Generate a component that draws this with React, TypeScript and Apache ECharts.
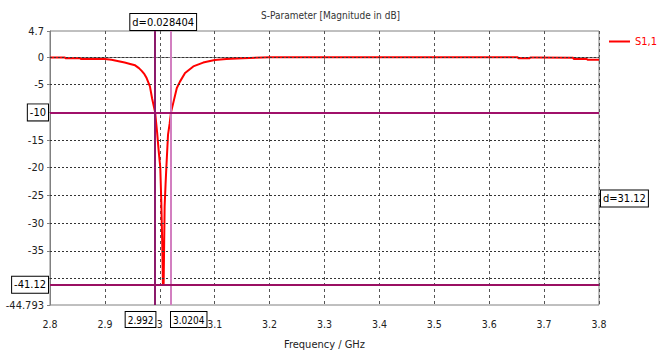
import React, { useEffect, useRef } from "react";
import * as echarts from "echarts";

const FONT = "'DejaVu Sans Condensed', 'DejaVu Sans', sans-serif";

const freq = [
  2.8, 2.827, 2.828, 2.855, 2.856, 2.9, 2.912, 2.925, 2.936, 2.946, 2.955, 2.962, 2.967, 2.972, 2.976,
  2.982, 2.986, 2.9915, 2.995, 2.998, 3.0009, 3.0027, 3.0045, 3.0057, 3.0062, 3.007, 3.0088, 3.0105,
  3.0119, 3.015, 3.018, 3.0204, 3.025, 3.031, 3.037, 3.046, 3.061, 3.079, 3.1, 3.121, 3.151, 3.2,
  3.3, 3.4, 3.5, 3.6, 3.652, 3.653, 3.674, 3.675, 3.684, 3.685, 3.753, 3.754, 3.778, 3.779, 3.8,
];
const s11 = [
  -0.1, -0.1, -0.2, -0.2, -0.35, -0.35, -0.5, -0.75, -1.0, -1.25, -1.5, -2.0, -2.5, -3.1, -3.8,
  -5.3, -7.5, -10, -13.5, -17, -20, -26, -34, -41.12, -41.12, -41, -27, -23, -20, -14, -12, -10,
  -8.1, -5.6, -4.4, -2.9, -1.7, -1.0, -0.55, -0.35, -0.2, -0.05, -0.03, -0.03, -0.03, -0.03,
  -0.03, -0.2, -0.2, -0.1, -0.1, -0.15, -0.15, -0.35, -0.35, -0.5, -0.5,
];

const seriesName = "S1,1";
const yMin = -44.793;
const yMax = 4.7;
const yLabelValues = [4.7, 0, -5, -15, -20, -25, -30, -35, -44.793];
const yTickValues = [4.7, 0, -5, -10, -15, -20, -25, -30, -35, -40, -44.793];
const yGridValues = [0, -5, -10, -15, -20, -25, -30, -35, -40];

const markerX1 = 2.992;
const markerX2 = 3.0204;
const markerY1 = -10;
const markerY2 = -41.12;
const deltaX = "d=0.028404";
const deltaY = "d=31.12";

const boxLabel = {
  show: true,
  color: "#000",
  fontFamily: FONT,
  fontSize: 11,
  backgroundColor: "#fff",
  borderColor: "#000",
  borderWidth: 1,
  padding: [3, 2, 2, 2],
};

export default function App() {
  const ref = useRef<HTMLDivElement>(null);
  useEffect(() => {
    if (!ref.current) return;
    const chart = echarts.init(ref.current, undefined, { renderer: "svg" });
    const data = freq.map((f, i) => [f, s11[i]]);
    chart.setOption({
      animation: false,
      textStyle: { fontFamily: FONT },
      title: {
        text: "S-Parameter [Magnitude in dB]",
        left: 256,
        top: 5,
        textStyle: { fontSize: 10, fontWeight: "normal", color: "#333", fontFamily: FONT },
      },
      legend: {
        data: [seriesName],
        left: 609,
        top: 36,
        padding: 0,
        icon: "rect",
        itemWidth: 21,
        itemHeight: 2,
        itemGap: 4,
        textStyle: { color: "#ff0000", fontSize: 11, fontFamily: FONT },
      },
      grid: {
        left: 50,
        right: 66,
        top: 31,
        bottom: 53,
        show: true,
        borderColor: "#808080",
        borderWidth: 1,
      },
      xAxis: {
        type: "value",
        min: 2.8,
        max: 3.8,
        interval: 0.1,
        name: "Frequency / GHz",
        nameLocation: "middle",
        nameGap: 34,
        nameTextStyle: { color: "#222", fontSize: 11, fontFamily: FONT },
        axisLine: { lineStyle: { color: "#808080" } },
        axisTick: { show: true, length: 4, lineStyle: { color: "#808080" } },
        axisLabel: {
          color: "#222",
          fontSize: 10.5,
          margin: 13,
          fontFamily: FONT,
          formatter: (v: number) => String(Math.round(v * 10) / 10),
        },
        splitLine: { show: true, lineStyle: { color: "#555", type: [3, 3], width: 1 } },
      },
      yAxis: {
        type: "value",
        min: yMin,
        max: yMax,
        axisLine: { show: true, lineStyle: { color: "#808080" } },
        axisTick: { show: true, length: 3, customValues: yTickValues, lineStyle: { color: "#808080" } },
        axisLabel: {
          color: "#222",
          fontSize: 11,
          margin: 6,
          fontFamily: FONT,
          customValues: yLabelValues,
          formatter: (v: number) => String(v),
        },
        splitLine: { show: false },
      },
      series: [
        {
          type: "line",
          name: "grid",
          data: [],
          z: 1,
          silent: true,
          markLine: {
            silent: true,
            symbol: ["none", "none"],
            label: { show: false },
            lineStyle: { color: "#333", type: [2, 2], width: 1 },
            data: yGridValues.map((v) => ({ yAxis: v })),
          },
        },
        {
          type: "line",
          name: seriesName,
          data,
          showSymbol: false,
          symbol: "none",
          z: 3,
          lineStyle: { color: "#ff0000", width: 2 },
          itemStyle: { color: "#ff0000" },
        },
        {
          type: "line",
          name: "markers",
          data: [],
          z: 5,
          silent: true,
          markLine: {
            silent: true,
            symbol: ["none", "none"],
            label: { show: false },
            data: [
              { xAxis: markerX1, lineStyle: { color: "#8b1a6b", width: 2, type: "solid" } },
              { xAxis: markerX2, lineStyle: { color: "#d27fc0", width: 2, type: "solid" } },
              { yAxis: markerY1, lineStyle: { color: "#a0106a", width: 2, type: "solid" } },
              { yAxis: markerY2, lineStyle: { color: "#9a0f62", width: 2, type: "solid" } },
            ],
          },
          markPoint: {
            silent: true,
            symbol: "circle",
            symbolSize: 0,
            data: [
              {
                coord: [(markerX1 + markerX2) / 2, yMax],
                label: { ...boxLabel, position: "top", distance: 1, formatter: deltaX },
              },
              {
                coord: [3.8, (markerY1 + markerY2) / 2],
                label: { ...boxLabel, position: "right", distance: 2, formatter: deltaY },
              },
              {
                coord: [2.8, markerY1],
                label: { ...boxLabel, position: "left", distance: 2, formatter: String(markerY1) },
              },
              {
                coord: [2.8, markerY2],
                label: { ...boxLabel, position: "left", distance: 2, formatter: String(markerY2) },
              },
              {
                coord: [markerX1, yMin],
                label: { ...boxLabel, fontSize: 10, position: "bottom", distance: 7, align: "right", formatter: String(markerX1) },
              },
              {
                coord: [markerX2, yMin],
                label: { ...boxLabel, fontSize: 10, position: "bottom", distance: 7, align: "left", formatter: String(markerX2) },
              },
            ],
          },
        },
      ],
    });
    return () => chart.dispose();
  }, []);
  return <div ref={ref} style={{ position: "absolute", left: 0, top: 0, width: 665, height: 358 }} />;
}
